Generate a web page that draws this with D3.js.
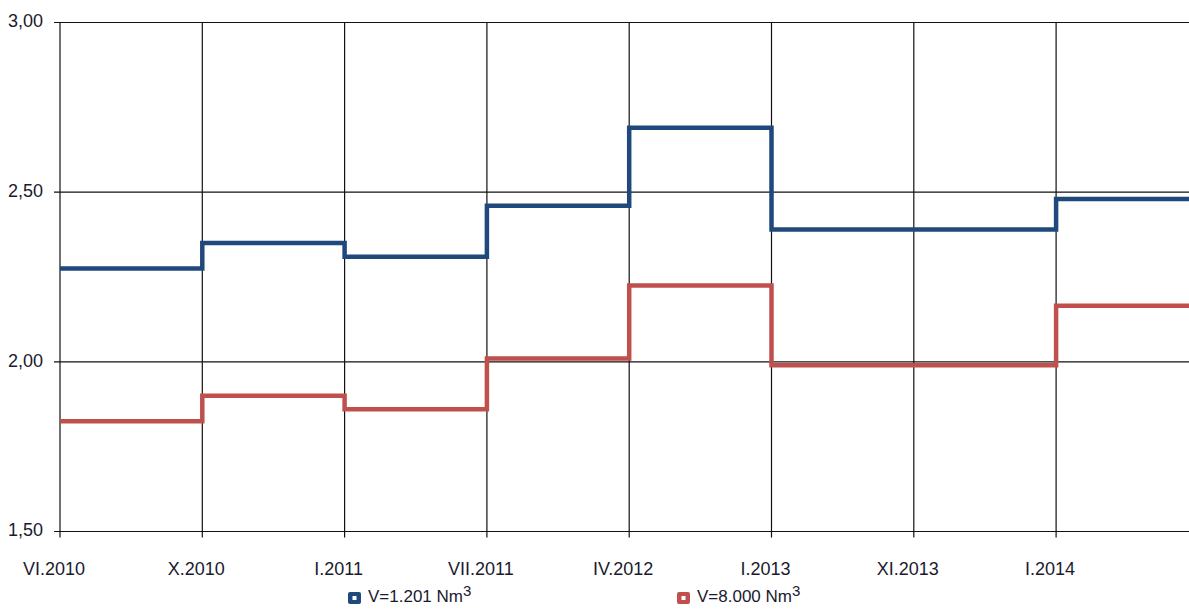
<!DOCTYPE html>
<html>
<head>
<meta charset="utf-8">
<script src="https://cdn.jsdelivr.net/npm/d3@7"></script>
<style>
  body { margin:0; background:#fff; }
  text { font-family: "Liberation Sans", Arial, sans-serif; fill:#1a1a2e; }
</style>
</head>
<body>
<div id="chart"></div>
<script>
var periods = ["VI.2010","X.2010","I.2011","VII.2011","IV.2012","I.2013","XI.2013","I.2014"];
var yTicks = [1.5, 2.0, 2.5, 3.0];
var small = [2.275, 2.35, 2.31, 2.46, 2.69, 2.39, 2.39, 2.48];
var large = [1.825, 1.90, 1.86, 2.01, 2.225, 1.99, 1.99, 2.165];
var seriesNames = ["V=1.201 Nm", "V=8.000 Nm"];
var colors = ["#1F497D", "#C0504D"];

var width = 1189, height = 615;
var svg = d3.select("#chart").append("svg")
    .attr("width", width)
    .attr("height", height);

var x = d3.scaleLinear().domain([0, periods.length]).range([60, 60 + 142.3 * periods.length]);
var y = d3.scaleLinear().domain([1.5, 3.0]).range([531.5, 22.5]);

// horizontal grid + y labels
svg.append("g").selectAll("line").data(yTicks).enter().append("line")
    .attr("x1", 54).attr("x2", width)
    .attr("y1", d => y(d)).attr("y2", d => y(d))
    .attr("stroke", "#111").attr("stroke-width", 1.2);

svg.append("g").selectAll("text").data(yTicks).enter().append("text")
    .attr("x", 43).attr("y", d => y(d))
    .attr("text-anchor", "end").attr("dominant-baseline", "middle")
    .style("font-size", "18px")
    .text(d => d3.format(".2f")(d).replace(".", ","));

// vertical grid + x labels
svg.append("g").selectAll("line").data(periods).enter().append("line")
    .attr("x1", (d, i) => x(i)).attr("x2", (d, i) => x(i))
    .attr("y1", y(3.0)).attr("y2", y(1.5) + 6)
    .attr("stroke", "#111").attr("stroke-width", 1.2);

svg.append("g").selectAll("text").data(periods).enter().append("text")
    .attr("x", (d, i) => x(i) - 6).attr("y", 575)
    .attr("text-anchor", "middle")
    .style("font-size", "18px")
    .text(d => d);

// step lines
var line = d3.line()
    .x(d => x(d[0]))
    .y(d => y(d[1]))
    .curve(d3.curveStepAfter);

[small, large].forEach(function(vals, k){
  var pts = vals.map((v, i) => [i, v]);
  pts.push([vals.length, vals[vals.length - 1]]);
  svg.append("path")
    .datum(pts)
    .attr("d", line)
    .attr("fill", "none")
    .attr("stroke", colors[k])
    .attr("stroke-width", 4.5)
    .attr("stroke-linejoin", "miter");
});

// legend
var legendX = [348, 677];
seriesNames.forEach(function(name, k){
  var g = svg.append("g").attr("transform", "translate(" + legendX[k] + ",592)");
  g.append("rect").attr("width", 13).attr("height", 12).attr("rx", 2)
    .attr("fill", colors[k]);
  g.append("rect").attr("x", 4.5).attr("y", 4).attr("width", 4).attr("height", 4)
    .attr("fill", "#fff");
  var t = g.append("text").attr("x", 20).attr("y", 10).style("font-size", "17px");
  t.append("tspan").text(name);
  t.append("tspan").attr("dy", -6).style("font-size", "15px").text("3");
});
</script>
</body>
</html>
